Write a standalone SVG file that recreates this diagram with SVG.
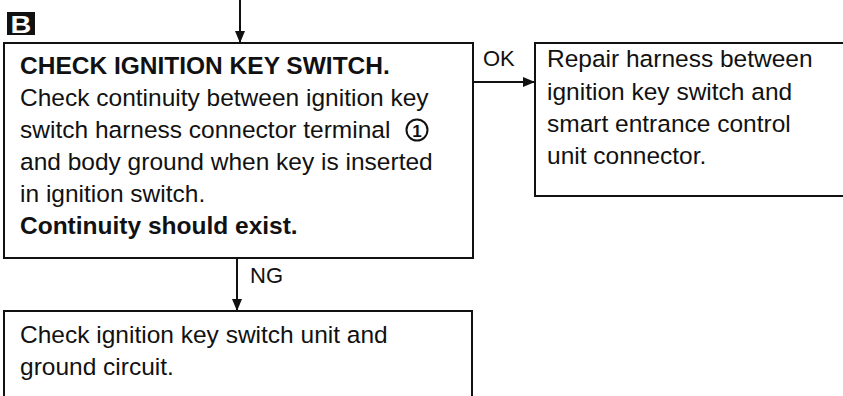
<svg xmlns="http://www.w3.org/2000/svg" width="843" height="396" viewBox="0 0 843 396">
<style>
.box{fill:#fff;stroke:#111;stroke-width:2}
.t{font-family:"Liberation Sans",Arial,sans-serif;font-size:24.5px;fill:#111}
.b{font-weight:bold}
.lbl{font-family:"Liberation Sans",Arial,sans-serif;font-size:22px;fill:#111}
.ln{stroke:#111;stroke-width:2;fill:none}
</style>
<defs>
<marker id="ah" viewBox="0 0 12 10" refX="12" refY="5" markerWidth="12" markerHeight="10" markerUnits="userSpaceOnUse" orient="auto">
<path d="M0,0 L12,5 L0,10 Z" fill="#111"/>
</marker>
</defs>
<rect width="843" height="396" fill="#fff"/>
<g id="badge">
<rect x="7" y="12" width="28" height="23" fill="#111"/>
<text x="0" y="0" transform="translate(21 33) scale(1.2 1)" text-anchor="middle" font-family="Liberation Sans,Arial,sans-serif" font-weight="bold" font-size="24" fill="#fff">B</text>
</g>
<g id="connectors">
<line class="ln" x1="240" y1="0" x2="240" y2="43" marker-end="url(#ah)"/>
<line class="ln" x1="473" y1="82" x2="535" y2="82" marker-end="url(#ah)"/>
<line class="ln" x1="237" y1="258" x2="237" y2="311" marker-end="url(#ah)"/>
<text class="lbl" x="483" y="66">OK</text>
<text class="lbl" x="250" y="283">NG</text>
</g>
<g id="check">
<rect class="box" x="4" y="43" width="469" height="215"/>
<text class="t b" x="20" y="74">CHECK IGNITION KEY SWITCH.</text>
<text class="t" x="20" y="106">Check continuity between ignition key</text>
<text class="t" x="20" y="138">switch harness connector terminal</text>
<circle cx="417" cy="130" r="10.5" fill="none" stroke="#111" stroke-width="2"/>
<text x="417" y="137" text-anchor="middle" font-family="Liberation Sans,Arial,sans-serif" font-weight="bold" font-size="17" fill="#111">1</text>
<text class="t" x="20" y="170">and body ground when key is inserted</text>
<text class="t" x="20" y="202">in ignition switch.</text>
<text class="t b" x="20" y="234">Continuity should exist.</text>
</g>
<g id="repair">
<rect class="box" x="535" y="43" width="320" height="153"/>
<text class="t" x="547" y="67">Repair harness between</text>
<text class="t" x="547" y="100">ignition key switch and</text>
<text class="t" x="547" y="132">smart entrance control</text>
<text class="t" x="547" y="164">unit connector.</text>
</g>
<g id="unit">
<rect class="box" x="4" y="311" width="468" height="100"/>
<text class="t" x="20" y="343">Check ignition key switch unit and</text>
<text class="t" x="20" y="375">ground circuit.</text>
</g>
</svg>
